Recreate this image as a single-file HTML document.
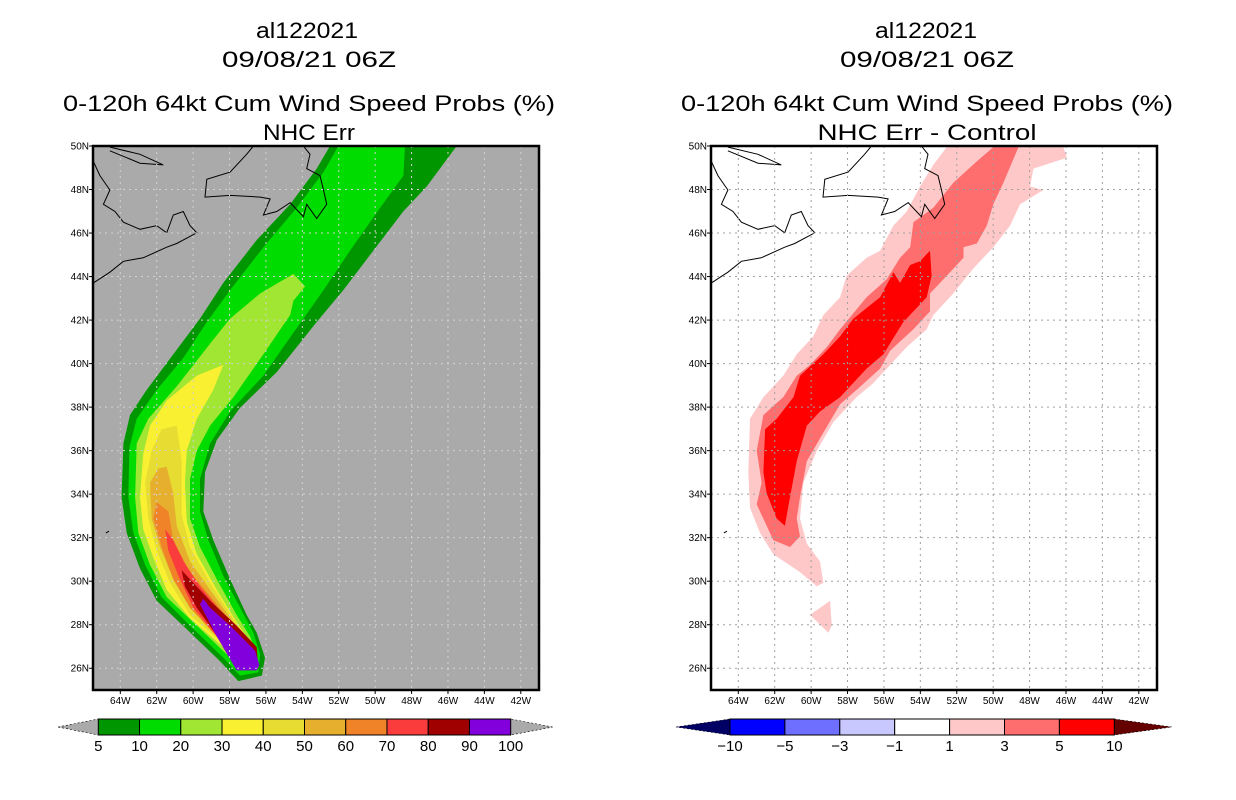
<!DOCTYPE html>
<html><head><meta charset="utf-8">
<style>
html,body{margin:0;padding:0;background:#fff;}
svg{display:block;font-family:"Liberation Sans","DejaVu Sans",sans-serif;}
</style></head>
<body>
<svg id="chart" width="1236" height="800" viewBox="0 0 1236 800" xmlns="http://www.w3.org/2000/svg">
  <rect width="1236" height="800" fill="#ffffff"/>
  <g font-size="22" text-anchor="middle" fill="#000">
    <text x="307" y="38" textLength="102" lengthAdjust="spacingAndGlyphs">al122021</text>
    <text x="309" y="67" textLength="174" lengthAdjust="spacingAndGlyphs">09/08/21 06Z</text>
    <text x="309" y="111" textLength="492" lengthAdjust="spacingAndGlyphs">0-120h 64kt Cum Wind Speed Probs (%)</text>
    <text x="309" y="140" textLength="92" lengthAdjust="spacingAndGlyphs">NHC Err</text>
  </g>
  <g font-size="22" text-anchor="middle" fill="#000">
    <text x="926" y="38" textLength="102" lengthAdjust="spacingAndGlyphs">al122021</text>
    <text x="927" y="67" textLength="174" lengthAdjust="spacingAndGlyphs">09/08/21 06Z</text>
    <text x="927" y="111" textLength="492" lengthAdjust="spacingAndGlyphs">0-120h 64kt Cum Wind Speed Probs (%)</text>
    <text x="927" y="140" textLength="219" lengthAdjust="spacingAndGlyphs">NHC Err - Control</text>
  </g>
  <g id="leftMap"></g>
  <g id="rightMap"></g>
  <g id="leftBar"></g>
  <g id="rightBar"></g>
</svg>
<script>
// ---- axis data ----
const lonTicks = [-64,-62,-60,-58,-56,-54,-52,-50,-48,-46,-44,-42];
const latTicks = [26,28,30,32,34,36,38,40,42,44,46,48,50];
const lonMin = -65.5, lonMax = -41.0, latMin = 25, latMax = 50;

// ---- left panel: probability bands (lon arrays, lat arrays) ----
const probLevels = [5,10,20,30,40,50,60,70,80,90];
const probLon5  = [-52.48,-45.52,-47.17,-48.45,-50.10,-51.75,-53.21,-55.41,-57.42,-58.70,-59.35,-59.44,-58.89,-57.97,-57.06,-56.51,-56.05,-56.23,-57.52,-58.52,-60.35,-62.00,-62.92,-63.65,-63.93,-63.83,-63.47,-62.55,-61.09,-59.62,-58.34,-56.51,-54.67,-53.21];
const probLat5  = [50,50,48.14,47.0,45.19,43.38,41.91,39.61,37.97,36.49,35.01,33.21,31.89,30.09,28.45,27.63,26.48,25.66,25.41,26.32,27.79,29.10,30.58,32.22,33.86,36.33,37.64,38.79,40.43,42.07,43.71,45.68,47.32,48.96];
const probLon10 = [-52.02,-48.36,-48.45,-49.73,-51.38,-52.84,-54.49,-56.14,-57.97,-59.07,-59.62,-59.62,-59.16,-58.34,-57.42,-56.69,-56.32,-56.42,-57.42,-58.34,-60.17,-61.73,-62.64,-63.28,-63.56,-63.50,-63.10,-62.00,-60.53,-59.25,-57.97,-56.14,-54.31,-52.84];
const probLat10 = [50,50,48.64,47.16,45.19,43.38,41.42,39.45,37.80,36.33,34.69,33.21,31.89,30.25,28.78,27.63,26.64,25.82,25.66,26.48,27.96,29.27,30.75,32.22,33.86,36.16,37.47,38.79,40.27,41.91,43.38,45.35,47.16,48.80];
const probLon20 = [-54.49,-53.85,-54.49,-54.67,-56.14,-57.79,-59.07,-59.80,-60.17,-60.17,-59.62,-58.70,-57.61,-56.87,-56.51,-56.69,-57.33,-58.16,-59.80,-61.45,-62.37,-63.01,-63.19,-63.10,-62.46,-60.90,-59.07,-57.97,-56.32];
const probLat20 = [44.12,43.55,42.89,42.24,40.43,38.46,37.15,36.00,34.69,32.88,31.57,30.09,28.45,27.46,26.64,25.98,25.98,26.64,27.96,29.27,30.75,32.22,33.86,36.33,37.47,38.95,40.92,42.07,43.22];
const probLon30 = [-58.34,-58.89,-59.80,-60.35,-60.45,-60.35,-59.80,-58.70,-57.61,-56.69,-56.60,-57.33,-58.34,-60.17,-61.45,-62.18,-62.74,-62.92,-62.74,-62.37,-61.45,-59.80];
const probLat30 = [39.94,38.79,37.47,36.00,34.52,32.72,31.24,29.60,28.12,26.97,26.15,26.15,26.97,28.29,29.60,31.08,32.39,33.86,35.84,37.15,38.30,39.45];
const probLon40 = [-60.90,-60.63,-60.63,-60.17,-59.07,-57.79,-56.78,-56.69,-57.24,-58.34,-60.17,-61.27,-62.00,-62.46,-62.64,-62.28,-61.73];
const probLat40 = [37.15,35.51,33.05,31.57,29.93,28.28,26.97,26.31,26.31,27.13,28.45,29.93,31.40,32.88,34.52,36.00,36.98];
const probLon50 = [-61.45,-61.09,-60.90,-60.17,-59.07,-57.79,-56.78,-56.78,-57.24,-58.34,-60.17,-61.09,-61.82,-62.28,-62.37,-61.91];
const probLat50 = [35.26,34.03,32.55,30.91,29.60,28.12,26.97,26.31,26.31,27.30,28.78,30.09,31.57,32.88,34.52,35.18];
const probLon60 = [-62.00,-61.36,-61.09,-60.17,-58.70,-56.87,-57.24,-58.52,-60.17,-61.09,-61.73,-62.18];
const probLat60 = [33.62,33.21,31.89,30.42,28.94,26.97,26.31,27.30,28.78,30.09,31.57,32.88];
const probLon70 = [-61.54,-61.09,-60.53,-59.62,-58.34,-56.87,-57.06,-57.61,-58.70,-59.99,-60.81,-61.36];
const probLat70 = [32.39,31.89,30.91,29.76,28.45,26.97,26.31,26.31,27.46,28.78,30.25,31.40];
const probLon80 = [-60.63,-60.17,-59.07,-57.61,-56.51,-56.42,-57.42,-58.52,-59.80,-60.45];
const probLat80 = [30.50,30.09,29.10,27.96,26.97,25.98,25.98,27.30,28.78,29.76];
const probLon90 = [-59.44,-59.07,-57.97,-56.60,-56.36,-56.51,-57.61,-58.70,-59.62];
const probLat90 = [29.19,28.78,27.96,26.81,26.15,25.90,25.90,27.46,28.94];
const probColors = ["#009600","#00dc00","#a0e632","#faf032","#e6dc32","#e6af2d","#f08228","#fa3c3c","#a00000","#8200dc"];

// ---- right panel: difference bands ----
const diffLevels = [1,3,5];
const diffLon1 = [-52.55,-46.14,-45.95,-47.79,-47.97,-47.24,-48.52,-49.07,-49.99,-51.09,-52.19,-53.29,-53.65,-54.75,-55.85,-56.58,-57.50,-58.78,-59.69,-60.43,-60.61,-60.24,-59.51,-59.33,-59.69,-60.61,-62.08,-62.81,-63.36,-63.45,-63.36,-62.62,-61.53,-60.79,-59.88,-59.33,-58.41,-58.05,-56.95,-56.21,-55.48,-54.75,-54.02,-53.29];
const diffLat1 = [49.95,49.95,49.46,48.96,48.14,47.98,47.32,46.34,45.35,44.37,43.22,42.23,41.58,40.76,39.77,39.11,38.46,37.31,36.00,34.52,32.88,31.73,30.91,29.93,29.76,30.42,31.24,32.22,33.37,35.01,37.47,38.46,39.44,40.43,41.25,42.23,43.05,44.04,44.86,45.19,46.34,46.99,48.14,49.13];
const diffLon1b = [-60.06,-58.96,-58.87,-59.05];
const diffLat1b = [28.45,29.10,27.96,27.63];
const diffLon3 = [-49.99,-48.61,-49.44,-49.99,-50.35,-50.90,-51.63,-51.63,-52.73,-53.47,-53.47,-54.38,-55.66,-56.21,-57.50,-58.41,-59.33,-60.24,-60.61,-60.79,-60.61,-61.16,-62.08,-62.99,-62.72,-62.99,-62.62,-61.53,-60.79,-60.06,-59.14,-58.41,-56.95,-55.85,-55.11,-54.56,-54.38,-53.29,-52.19,-50.90];
const diffLat3 = [49.95,49.95,48.31,47.32,46.34,45.52,45.35,44.86,43.88,43.22,42.40,41.58,40.59,39.77,38.79,38.13,36.82,35.51,33.86,32.88,32.06,31.57,31.89,33.53,34.52,36.00,37.64,38.46,39.44,39.94,40.76,41.58,43.05,43.88,44.86,45.35,46.50,47.16,48.31,49.29];
const diffLon5 = [-53.47,-53.38,-53.65,-54.93,-56.03,-56.95,-58.41,-59.51,-60.24,-60.79,-61.16,-61.44,-61.89,-62.44,-62.62,-62.53,-61.89,-60.97,-60.61,-59.33,-58.41,-57.68,-56.21,-55.48,-55.11,-54.56,-54.02];
const diffLat5 = [45.19,44.04,43.05,41.91,40.43,39.77,38.46,37.80,37.15,35.51,33.86,32.55,32.88,34.03,35.01,36.98,37.47,38.46,39.44,40.43,41.25,42.07,43.05,44.20,43.71,44.53,44.70];
const diffColors = ["#ffc8c8","#ff6e6e","#ff0000"];

// ---- coastlines ----
const nsLon = [-65.48,-64.57,-63.83,-62.74,-61.45,-60.90,-59.80,-60.17,-60.54,-61.09,-61.45,-62.00,-62.92,-63.83,-64.29,-64.93,-64.57,-65.12,-65.48];
const nsLat = [43.71,44.20,44.70,44.86,45.35,45.52,46.01,46.34,46.99,46.83,46.01,46.34,46.17,46.50,46.99,47.32,47.98,48.64,49.29];
const anLon = [-64.57,-62.92,-61.64,-62.92,-64.57];
const anLat = [49.95,49.62,49.13,49.21,49.78];
const nfLon = [-56.69,-57.06,-57.97,-59.25,-59.35,-57.97,-56.32,-55.77,-56.14,-55.41,-54.67,-53.94,-53.76,-53.21,-52.66,-52.84,-53.03,-53.76,-53.58,-53.94];
const nfLat = [50.0,49.62,48.80,48.47,47.65,47.73,47.65,47.57,46.83,46.99,47.40,46.75,47.32,46.67,47.32,47.98,48.64,48.96,49.62,50.0];
const bdLon = [-64.79,-64.62];
const bdLat = [32.22,32.30];

// ---- colorbar labels ----
const probBarLabels = ["5","10","20","30","40","50","60","70","80","90","100"];
const diffBarLabels = ["\u221210","\u22125","\u22123","\u22121","1","3","5","10"];
const diffBarColors = ["#0000ff","#6e6eff","#c8c8ff","#ffffff","#ffc8c8","#ff6e6e","#ff0000"];

const NS = "http://www.w3.org/2000/svg";
function mk(tag, attrs, parent){ const e=document.createElementNS(NS,tag); for(const k in attrs) e.setAttribute(k,attrs[k]); parent.appendChild(e); return e; }

function makeMap(g, x0, bg, bands, bandColors, bandNames, gridColor){
  const y0=146, W=446, H=544;
  const sx = lon => x0 + (lon-lonMin)/(lonMax-lonMin)*W;
  const sy = lat => y0 + (latMax-lat)/(latMax-latMin)*H;
  const cid = "clip"+x0;
  const cp = mk("clipPath",{id:cid},g); mk("rect",{x:x0,y:y0,width:W,height:H},cp);
  const bgr = mk("rect",{x:x0,y:y0,width:W,height:H,fill:bg},g);
  
  
  const inner = mk("g",{"clip-path":"url(#"+cid+")"},g);
  bands.forEach((b,i)=>{
    const pts = b[0].map((lon,j)=>sx(lon).toFixed(1)+","+sy(b[1][j]).toFixed(1)).join(" ");
    const p = mk("polygon",{points:pts,fill:bandColors[i]},inner);
    
    
  });
  [[nsLon,nsLat],[anLon,anLat],[nfLon,nfLat],[bdLon,bdLat]].forEach((c,i)=>{
    const pts = c[0].map((lon,j)=>sx(lon).toFixed(1)+","+sy(c[1][j]).toFixed(1)).join(" ");
    const l = mk("polyline",{points:pts,fill:"none",stroke:"#000","stroke-width":1},inner);
    
    
  });
  lonTicks.forEach(lon=>{
    const l=mk("line",{x1:sx(lon),x2:sx(lon),y1:y0,y2:y0+H,stroke:gridColor,"stroke-width":1,"stroke-dasharray":"2,4"},inner);
    
    
  });
  latTicks.forEach(lat=>{
    const l=mk("line",{x1:x0,x2:x0+W,y1:sy(lat),y2:sy(lat),stroke:gridColor,"stroke-width":1,"stroke-dasharray":"2,4"},inner);
    
    
  });
  const fr = mk("rect",{x:x0,y:y0,width:W,height:H,fill:"none",stroke:"#000","stroke-width":2.5},g);
  
  
  latTicks.forEach(lat=>{
    mk("line",{x1:x0-4,x2:x0,y1:sy(lat),y2:sy(lat),stroke:"#000","stroke-width":1},g);
    const t=mk("text",{x:x0-4,y:sy(lat)+3.5,"font-size":10,"text-anchor":"end"},g);
    t.textContent = lat+"N";
    
    
  });
  lonTicks.forEach(lon=>{
    mk("line",{x1:sx(lon),x2:sx(lon),y1:y0+H,y2:y0+H+4,stroke:"#000","stroke-width":1},g);
    const t=mk("text",{x:sx(lon),y:y0+H+14,"font-size":10,"text-anchor":"middle"},g);
    t.textContent = (-lon)+"W";
    
    
  });
}

makeMap(document.getElementById("leftMap"),93,"#aaaaaa",
  [[probLon5,probLat5],[probLon10,probLat10],[probLon20,probLat20],[probLon30,probLat30],[probLon40,probLat40],[probLon50,probLat50],[probLon60,probLat60],[probLon70,probLat70],[probLon80,probLat80],[probLon90,probLat90]],
  probColors, probLevels.map(v=>"prob-band-"+v), "#d2d2d2");
makeMap(document.getElementById("rightMap"),711,"#ffffff",
  [[diffLon1,diffLat1],[diffLon1b,diffLat1b],[diffLon3,diffLat3],[diffLon5,diffLat5]],
  [diffColors[0],diffColors[0],diffColors[1],diffColors[2]],
  ["diff-band-1","diff-band-1-blob","diff-band-3","diff-band-5"], "#a0a0a0");

function makeBar(g, tipL, x1, x2, tipR, colors, labels, triL, triR){
  const yT=719, yB=735, yM=727;
  const a=mk("polygon",{points:`${tipL},${yM} ${x1},${yT} ${x1},${yB}`,fill:triL,stroke:"#000","stroke-width":0.6,"stroke-dasharray":"2,2"},g);
  
  
  const b=mk("polygon",{points:`${tipR},${yM} ${x2},${yT} ${x2},${yB}`,fill:triR,stroke:"#000","stroke-width":0.6,"stroke-dasharray":"2,2"},g);
  
  
  const w=(x2-x1)/colors.length;
  colors.forEach((c,i)=>{
    const r=mk("rect",{x:x1+i*w,y:yT,width:w,height:yB-yT,fill:c,stroke:"#000","stroke-width":1},g);
    
    
  });
  labels.forEach((s,i)=>{
    const t=mk("text",{x:x1+i*w,y:751,"font-size":15,"text-anchor":"middle"},g);
    t.textContent=s;
    
    
  });
}
makeBar(document.getElementById("leftBar"),58,98.3,510.7,552.7,probColors,probBarLabels,"#aaaaaa","#aaaaaa");
makeBar(document.getElementById("rightBar"),676,730,1114.3,1171.7,diffBarColors,diffBarLabels,"#000064","#640000");
</script>
</body></html>
